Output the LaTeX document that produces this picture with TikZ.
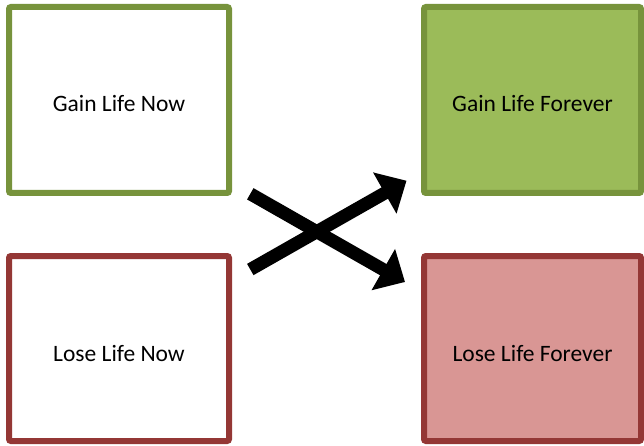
\documentclass[tikz,border=0pt]{standalone}
\usepackage{fontspec}
\setmainfont{Carlito}
\usetikzlibrary{arrows.meta}
\definecolor{gborder}{HTML}{77933C}
\definecolor{gfill}{HTML}{9BBB59}
\definecolor{rborder}{HTML}{943735}
\definecolor{rfill}{HTML}{D99694}
\tikzset{
  box/.style={line width=6pt, rounded corners=2pt, inner sep=0pt, outer sep=0pt,
    font=\fontsize{23.5pt}{28pt}\selectfont, text=black},
  greenbox/.style={box, draw=gborder},
  redbox/.style={box, draw=rborder},
  bigarrow/.style={line width=13pt, draw=black, -{Triangle[width=46pt,length=25pt]}}
}
\begin{document}
\begin{tikzpicture}[x=1pt,y=-1pt]
\useasboundingbox (0,0) rectangle (644,446);
\node[greenbox, fill=white, minimum width=220pt, minimum height=186pt] (gnow) at (119,100) {};
\node[greenbox, fill=gfill, minimum width=217pt, minimum height=186pt] (gfor) at (532.5,100) {};
\node[redbox, fill=white, minimum width=220pt, minimum height=185pt] (lnow) at (119,348.5) {};
\node[redbox, fill=rfill, minimum width=217pt, minimum height=185pt] (lfor) at (532.5,348.5) {};
\node[font=\fontsize{23.5pt}{28pt}\selectfont] (tgnow) at ([yshift=-3.5pt]gnow.center) {Gain Life Now};
\node[font=\fontsize{23.5pt}{28pt}\selectfont] (tgfor) at ([yshift=-3.5pt]gfor.center) {Gain Life Forever};
\node[font=\fontsize{23.5pt}{28pt}\selectfont] (tlnow) at ([yshift=-5pt]lnow.center) {Lose Life Now};
\node[font=\fontsize{23.5pt}{28pt}\selectfont] (tlfor) at ([yshift=-5pt]lfor.center) {Lose Life Forever};
\coordinate (a1s) at (250.3,193.8);
\coordinate (a1e) at (405,282);
\coordinate (a2s) at (250.3,269.5);
\coordinate (a2e) at (406.5,180.7);
\draw[bigarrow] (a1s) -- (a1e);
\draw[bigarrow] (a2s) -- (a2e);
\end{tikzpicture}
\end{document}
